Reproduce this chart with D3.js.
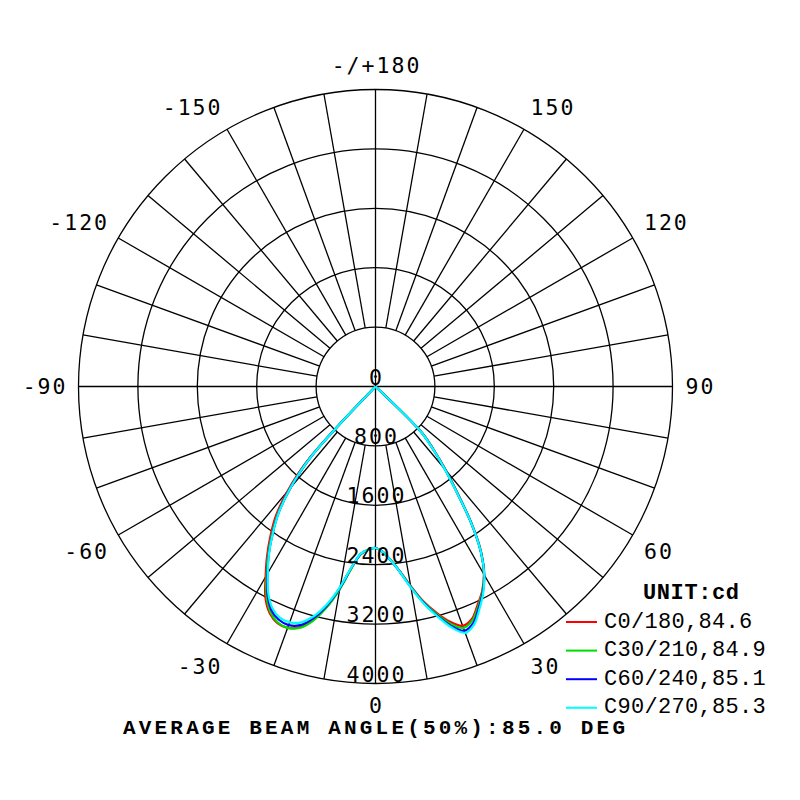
<!DOCTYPE html>
<html>
<head>
<meta charset="utf-8">
<script src="https://cdn.jsdelivr.net/npm/d3@7"></script>
<style>
  html, body { margin: 0; padding: 0; background: #fff; }
  svg { display: block; }
</style>
</head>
<body>
<div id="chart"></div>
<script>
// gamma angles (deg from nadir) shared by all curves
const gammas = [0, 2.5, 5, 7.5, 10, 12.5, 15, 17.5, 20, 22.5, 25, 27.5, 30, 32.5, 35, 37.5, 40, 42.5, 45, 47.5, 50];

// C0 / C30 / C60 / C90 half-planes (drawn on the right, cd)
const c0   = [2175, 2230, 2350, 2510, 2730, 2960, 3150, 3320, 3430, 3390, 3250, 3110, 2920, 2650, 2260, 1820, 1480, 1170, 900, 0, 0];
const c30  = [2175, 2230, 2350, 2515, 2740, 2970, 3170, 3350, 3460, 3410, 3270, 3120, 2925, 2645, 2255, 1810, 1465, 1160, 890, 0, 0];
const c60  = [2175, 2230, 2350, 2520, 2745, 2980, 3190, 3380, 3500, 3445, 3290, 3130, 2930, 2640, 2250, 1805, 1455, 1155, 885, 0, 0];
const c90  = [2175, 2230, 2350, 2520, 2750, 2990, 3200, 3400, 3530, 3470, 3310, 3140, 2930, 2640, 2250, 1800, 1450, 1150, 880, 0, 0];
// C180 / C210 / C240 / C270 half-planes (drawn on the left, cd)
const c180 = [2175, 2200, 2265, 2460, 2760, 3040, 3250, 3400, 3460, 3450, 3370, 3210, 2960, 2720, 2470, 2210, 1850, 1360, 0, 0, 0];
const c210 = [2175, 2200, 2265, 2465, 2770, 3050, 3270, 3410, 3460, 3440, 3350, 3180, 2930, 2690, 2430, 2160, 1790, 1310, 0, 0, 0];
const c240 = [2175, 2200, 2262, 2455, 2750, 3020, 3230, 3370, 3420, 3400, 3320, 3150, 2910, 2675, 2415, 2145, 1782, 1302, 0, 0, 0];
const c270 = [2175, 2200, 2260, 2450, 2740, 3000, 3200, 3330, 3380, 3370, 3290, 3130, 2900, 2670, 2410, 2140, 1780, 1300, 0, 0, 0];

const seriesNames  = ['C0/180,84.6', 'C30/210,84.9', 'C60/240,85.1', 'C90/270,85.3'];
const seriesColors = ['#ff0000', '#00dd00', '#0000ff', '#00ffff'];
const rightHalves  = [c0, c30, c60, c90];
const leftHalves   = [c180, c210, c240, c270];

const ringValues  = [800, 1600, 2400, 3200, 4000];
const ringLabels  = ['0', '800', '1600', '2400', '3200', '4000'];
const angleTicks  = [0, 30, 60, 90, 120, 150, 180, -150, -120, -90, -60, -30];
const angleLabels = ['0', '30', '60', '90', '120', '150', '-/+180', '-150', '-120', '-90', '-60', '-30'];

const unitLabel = 'UNIT:cd';
const titleText = 'AVERAGE BEAM ANGLE(50%):85.0 DEG';

// ---- layout
const W = 800, H = 800;
const cx = 375.5, cy = 386.5, R = 297;

const svg = d3.select('#chart').append('svg')
  .attr('width', W).attr('height', H)
  .attr('viewBox', `0 0 ${W} ${H}`);

svg.append('rect').attr('width', W).attr('height', H).attr('fill', '#fff');

const r = d3.scaleLinear().domain([0, 4000]).range([0, R]);
const g = svg.append('g').attr('transform', `translate(${cx},${cy})`);

// angle in degrees (0 = down, + = right) -> x,y
const toXY = (deg, rad) => {
  const a = deg * Math.PI / 180;
  return [rad * Math.sin(a), rad * Math.cos(a)];
};

// rings
g.selectAll('circle.ring')
  .data(ringValues)
  .join('circle')
    .attr('class', 'ring')
    .attr('r', d => r(d))
    .attr('fill', 'none')
    .attr('stroke', '#000')
    .attr('stroke-width', 1.3);

// spokes every 10 deg; main axes go through the centre
const spokes = d3.range(0, 360, 10);
g.selectAll('line.spoke')
  .data(spokes)
  .join('line')
    .attr('class', 'spoke')
    .each(function(d) {
      const inner = (d % 90 === 0) ? 0 : r(ringValues[0]);
      const p0 = toXY(d, inner), p1 = toXY(d, R);
      d3.select(this)
        .attr('x1', p0[0]).attr('y1', p0[1])
        .attr('x2', p1[0]).attr('y2', p1[1]);
    })
    .attr('stroke', '#000')
    .attr('stroke-width', 1.3);

// curves: origin -> left half (C180..) -> nadir -> right half -> origin
const lineRad = d3.lineRadial()
  .angle(d => d.a)
  .radius(d => r(d.v))
  .curve(d3.curveCatmullRom.alpha(0.5));

const halfPoints = (vals, sign) => {
  const out = [];
  for (let k = 0; k < gammas.length; k++) {
    out.push({ a: Math.PI - sign * gammas[k] * Math.PI / 180, v: vals[k] });
    if (vals[k] === 0) break;
  }
  return out;
};

rightHalves.forEach((right, i) => {
  const left = halfPoints(leftHalves[i], -1).reverse();
  const rgt = halfPoints(right, 1).slice(1);
  g.append('path')
    .attr('d', lineRad(left.concat(rgt)))
    .attr('fill', 'none')
    .attr('stroke', seriesColors[i])
    .attr('stroke-width', 2.2)
    .attr('stroke-linejoin', 'round');
});

// ring value labels along the nadir axis
const labelFont = "'DejaVu Sans Mono', monospace";
const labelSize = 21.5;
const capH = labelSize * 0.73;

g.selectAll('text.ringlab')
  .data(ringLabels)
  .join('text')
    .attr('class', 'ringlab')
    .attr('x', 1)
    .attr('y', (d, i) => i === 0 ? -1.5 : r(+d) - 2)
    .attr('text-anchor', 'middle')
    .attr('font-family', labelFont)
    .attr('font-size', labelSize)
    .attr('letter-spacing', 2)
    .attr('fill', '#000')
    .text(d => d);

// angle labels: the text box corner sits on an ellipse just outside the rim
const rxLab = 310, ryLab = 314;
g.selectAll('text.anglab')
  .data(angleTicks)
  .join('text')
    .attr('class', 'anglab')
    .attr('font-family', labelFont)
    .attr('font-size', labelSize)
    .attr('letter-spacing', 2)
    .attr('fill', '#000')
    .text((d, i) => angleLabels[i])
    .each(function(d) {
      const a = d * Math.PI / 180;
      const s = Math.sin(a), c = Math.cos(a);
      const px = rxLab * s, py = ryLab * c;
      const anchor = s > 0.01 ? 'start' : (s < -0.01 ? 'end' : 'middle');
      let y = c > 0.01 ? py + capH : (c < -0.01 ? py : py + capH / 2);
      if (d === 0) y -= 3;   // keep the nadir label clear of the note below
      // letter-spacing leaves a trailing gap; shift end-anchored text over it
      const x = anchor === 'end' ? px + 2 : (anchor === 'middle' ? px + 1 : px);
      d3.select(this).attr('x', x).attr('y', y).attr('text-anchor', anchor);
    });

// legend
const legendFont = "'Liberation Mono', 'Courier New', monospace";
svg.append('text')
  .attr('x', 643).attr('y', 593)
  .attr('dominant-baseline', 'central')
  .attr('font-family', legendFont)
  .attr('font-weight', 'bold')
  .attr('font-size', 22)
  .attr('letter-spacing', 0.6)
  .attr('fill', '#000')
  .text(unitLabel);

const legend = svg.append('g').selectAll('g')
  .data(seriesNames)
  .join('g')
    .attr('transform', (d, i) => `translate(566,${622 + i * 28.6})`);

legend.append('line')
  .attr('x1', 0).attr('x2', 31)
  .attr('stroke', (d, i) => seriesColors[i])
  .attr('stroke-width', 2);

legend.append('text')
  .attr('x', 38)
  .attr('dominant-baseline', 'central')
  .attr('font-family', legendFont)
  .attr('font-size', 22)
  .attr('letter-spacing', 0.3)
  .attr('fill', '#000')
  .text(d => d);

// bottom note
svg.append('text')
  .attr('x', 123).attr('y', 734)
  .attr('font-family', legendFont)
  .attr('font-weight', 'bold')
  .attr('font-size', 21)
  .attr('textLength', 502)
  .attr('lengthAdjust', 'spacing')
  .attr('fill', '#000')
  .text(titleText);
</script>
</body>
</html>
